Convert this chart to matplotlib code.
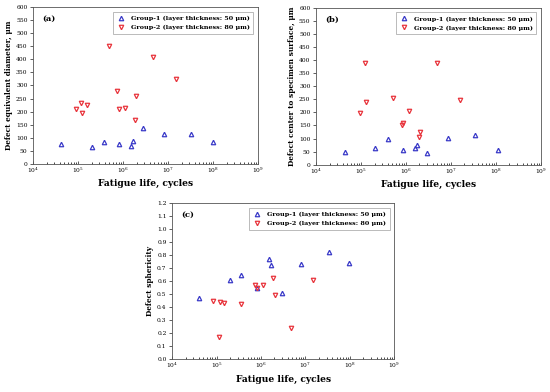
import matplotlib
matplotlib.use("Agg")
import matplotlib.pyplot as plt
import matplotlib.ticker as ticker
import numpy as np

plt.rcParams['font.family'] = 'DejaVu Serif'
plt.rcParams['mathtext.fontset'] = 'dejavuserif'

# (a) defect equivalent diameter, um
a_n1 = [4.1e4, 2.1e5, 3.7e5, 8.1e5, 1.48e6, 1.7e6, 2.8e6, 8.0e6, 3.2e7, 1.0e8]
a_y1 = [75, 64, 83, 75, 67, 89, 136, 113, 115, 84]
a_n2 = [8.9e4, 1.19e5, 1.23e5, 1.58e5, 4.9e5, 7.5e5, 8.1e5, 1.1e6, 1.85e6, 1.95e6, 4.6e6, 1.5e7]
a_y2 = [211, 234, 195, 227, 452, 278, 209, 214, 169, 260, 408, 325]

# (b) defect center to specimen surface, um
b_n1 = [4.5e4, 2.1e5, 3.9e5, 8.8e5, 1.6e6, 1.8e6, 3.0e6, 8.7e6, 3.4e7, 1.1e8]
b_y1 = [48, 65, 97, 55, 65, 77, 46, 103, 115, 57]
b_n2 = [9.3e4, 1.25e5, 1.32e5, 5.1e5, 8.1e5, 8.6e5, 1.17e6, 2.0e6, 2.1e6, 4.9e6, 1.6e7]
b_y2 = [197, 388, 238, 255, 151, 158, 204, 105, 125, 388, 246]

# (c) defect sphericity
c_n1 = [4.0e4, 2.04e5, 3.6e5, 8.1e5, 1.48e6, 1.7e6, 2.9e6, 8.1e6, 3.3e7, 9.5e7]
c_y1 = [0.47, 0.61, 0.65, 0.55, 0.77, 0.72, 0.51, 0.73, 0.82, 0.74]
c_n2 = [8.5e4, 1.12e5, 1.18e5, 1.5e5, 3.6e5, 7.4e5, 8.1e5, 1.1e6, 1.9e6, 2.1e6, 4.7e6, 1.5e7]
c_y2 = [0.446, 0.167, 0.44, 0.43, 0.42, 0.567, 0.55, 0.567, 0.62, 0.49, 0.236, 0.605]

label1 = 'Group-1 (layer thickness: 50 μm)'
label2 = 'Group-2 (layer thickness: 80 μm)'
blue = '#3a3ac8'
red = '#e8343c'

fig = plt.figure(figsize=(5.5, 3.92), dpi=100)
ax_a = fig.add_axes([0.060, 0.582, 0.409, 0.400])
ax_b = fig.add_axes([0.5745, 0.580, 0.409, 0.400])
ax_c = fig.add_axes([0.313, 0.084, 0.404, 0.398])

panels = [
    (ax_a, '(a)', 'Defect equivalent diameter, μm', a_n1, a_y1, a_n2, a_y2, 600, 50, '%d'),
    (ax_b, '(b)', 'Defect center to specimen surface, μm', b_n1, b_y1, b_n2, b_y2, 600, 50, '%d'),
    (ax_c, '(c)', 'Defect sphericity', c_n1, c_y1, c_n2, c_y2, 1.2, 0.1, '%.1f'),
]

for ax, tag, ylab, n1, y1, n2, y2, ymax, ystep, fmt in panels:
    ax.plot(n1, y1, linestyle='none', marker='^', markersize=3.2, markerfacecolor='none',
            markeredgecolor=blue, markeredgewidth=0.9, label=label1)
    ax.plot(n2, y2, linestyle='none', marker='v', markersize=3.2, markerfacecolor='none',
            markeredgecolor=red, markeredgewidth=0.9, label=label2)
    ax.set_xscale('log')
    ax.set_xlim(1e4, 1e9)
    ax.set_ylim(0, ymax)
    ax.yaxis.set_major_locator(ticker.MultipleLocator(ystep))
    ax.yaxis.set_major_formatter(ticker.FormatStrFormatter(fmt))
    ax.xaxis.set_major_locator(ticker.LogLocator(base=10, numticks=10))
    ax.xaxis.set_minor_locator(ticker.LogLocator(base=10, subs=np.arange(2, 10), numticks=20))
    ax.xaxis.set_minor_formatter(ticker.NullFormatter())
    ax.tick_params(axis='both', which='major', labelsize=4.3, length=2.5, width=0.6,
                   color='#444444', pad=1.5)
    ax.tick_params(axis='x', which='both', direction='in')
    ax.tick_params(axis='x', which='minor', length=1.5, width=0.5)
    ax.tick_params(axis='y', direction='out')
    for s in ax.spines.values():
        s.set_linewidth(0.6)
        s.set_color('#555555')
    ax.set_xlabel('Fatigue life, cycles', fontsize=6.6, fontweight='bold', labelpad=3)
    ax.set_ylabel(ylab, fontsize=5.3, fontweight='bold', labelpad=2)
    ax.text(0.04, 0.95, tag, transform=ax.transAxes, fontsize=6, fontweight='bold',
            va='top', ha='left')
    leg = ax.legend(loc='upper right', prop={'weight': 'bold', 'size': 4.6},
                    frameon=True, fancybox=False, edgecolor='#888888',
                    handlelength=1.4, borderpad=0.6, labelspacing=0.55, borderaxespad=0.7)
    leg.get_frame().set_linewidth(0.5)

fig.savefig('out.png', dpi=100)
